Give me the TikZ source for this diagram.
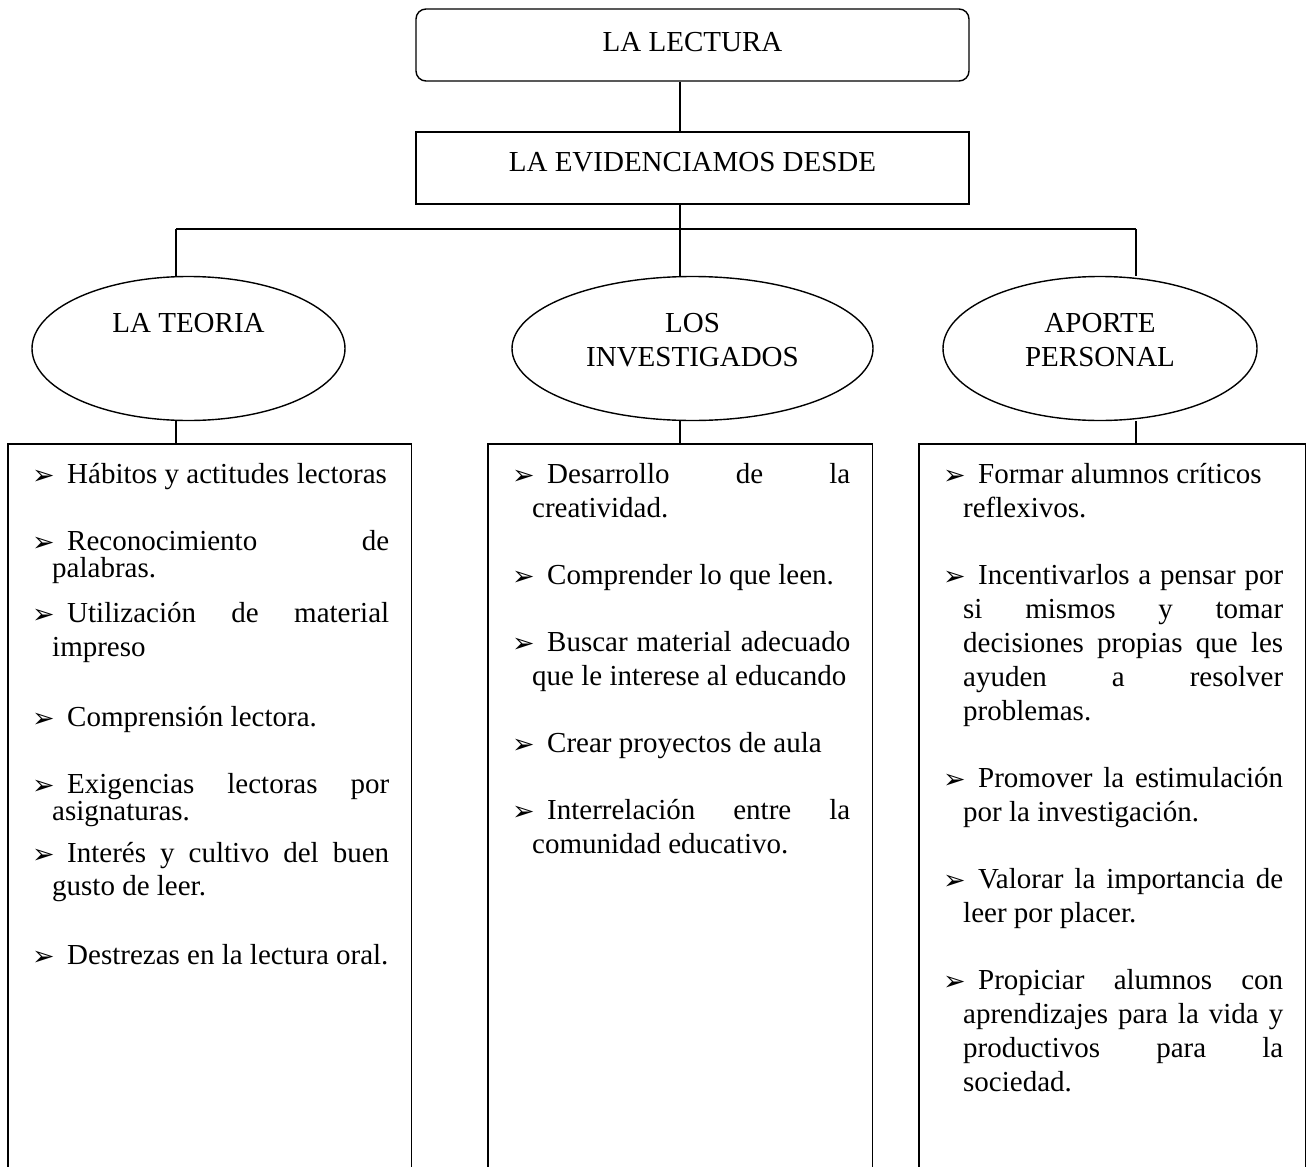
\documentclass[tikz,border=0pt]{standalone}
\usepackage{fontspec}
\setmainfont{Liberation Serif}
\newfontfamily\bulfont{DejaVu Sans}
\usetikzlibrary{shapes.geometric}
\newcommand{\bul}{{\bulfont\fontsize{27}{27}\selectfont\raisebox{-1pt}{➢}}}
\newcommand{\itm}[1]{\noindent\hangindent=20pt\hangafter=1\rule{0pt}{24pt}\makebox[35pt][l]{\bul}#1\par}
\begin{document}
\begin{tikzpicture}[x=1pt,y=-1pt,
  every node/.style={font=\fontsize{29}{34}\selectfont},
  conn/.style={line width=1.4pt},
  titlebox/.style={draw, line width=1.4pt, minimum width=553pt, minimum height=72pt, text height=19.2pt},
  oval/.style={draw, ellipse, line width=1.4pt, minimum height=144pt, inner sep=0pt},
  ovaltext/.style={align=center, inner sep=0pt},
  listbox/.style={rectangle, minimum height=756pt, inner sep=0pt},
  listtext/.style={anchor=north west, inner sep=0pt, align=justify,
    execute at begin node={\tolerance=10000\hyphenpenalty=10000\exhyphenpenalty=10000\emergencystretch=0pt}},
  tight/.style={font=\fontsize{29}{27}\selectfont}
]
\useasboundingbox (0,0) rectangle (1310,1167);
\clip (0,0) rectangle (1310,1167);

% top boxes
\node[titlebox, rounded corners=10pt, text depth=6pt] (top) at (692.5,45) {LA LECTURA};
\node[titlebox, text depth=12pt] (mid) at (692.5,168) {LA EVIDENCIAMOS DESDE};

% junctions
\coordinate (j) at (680,229);
\coordinate (jl) at (176,229);
\coordinate (jr) at (1136,229);

% ellipses
\node[oval, minimum width=313pt] (e1) at (188.5,348.5) {};
\node[oval, minimum width=361pt] (e2) at (692.5,348.5) {};
\node[oval, minimum width=314pt] (e3) at (1100,348.5) {};
\node[ovaltext] (t1) at (188.5,323) {LA TEORIA};
\node[ovaltext] (t2) at (692.5,340) {LOS\\INVESTIGADOS};
\node[ovaltext] (t3) at (1100,340) {APORTE\\PERSONAL};

% list boxes (open at the bottom)
\node[listbox, minimum width=403pt] (b1) at (209.5,822) {};
\node[listbox, minimum width=384pt] (b2) at (680,822) {};
\node[listbox, minimum width=386pt] (b3) at (1112,822) {};
\draw[conn] (b1.south west) -- (b1.north west) -- (b1.north east) -- (b1.south east);
\draw[conn] (b2.south west) -- (b2.north west) -- (b2.north east) -- (b2.south east);
\draw[conn] (b3.south west) -- (b3.north west) -- (b3.north east) -- (b3.south east);

% connectors
\draw[conn] (top.south -| j) -- (mid.north -| j);
\draw[conn] (mid.south -| j) -- (j);
\draw[conn] (jl) -- (jr);
\draw[conn] (jl) -- (e1.north -| jl);
\draw[conn] (j) -- (e2.north -| j);
\draw[conn] (jr) -- (e3.north -| jr);
\draw[conn] (e1.south -| jl) -- (b1.north -| jl);
\draw[conn] (e2.south -| j) -- (b2.north -| j);
\draw[conn] (e3.south -| jr) -- (b3.north -| jr);

% list texts, left box
\node[listtext, text width=357pt] (la) at (32,459) {\itm{Hábitos y actitudes lectoras}};
\node[listtext, tight, text width=357pt] (lb) at (32,526) {\itm{Reconocimiento de\linebreak palabras.}};
\node[listtext, text width=357pt] (lc) at (32,598) {\itm{Utilización de material\linebreak impreso}};
\node[listtext, text width=357pt] (ld) at (32,702) {\itm{Comprensión lectora.}};
\node[listtext, tight, text width=357pt] (le) at (32,769) {\itm{Exigencias lectoras por\linebreak asignaturas.}};
\node[listtext, font=\fontsize{29}{33}\selectfont, text width=357pt] (lf) at (32,838) {\itm{Interés y cultivo del buen\linebreak gusto de leer.}};
\node[listtext, text width=357pt] (lg) at (32,940) {\itm{Destrezas en la lectura oral.}};

% middle box
\node[listtext, text width=338pt] (l2) at (512,459) {\setlength\parskip{33pt}%
\itm{Desarrollo de la\linebreak creatividad.}
\itm{Comprender lo que leen.}
\itm{Buscar material adecuado\linebreak que le interese al educando}
\itm{Crear proyectos de aula}
\itm{Interrelación entre la\linebreak comunidad educativo.}};

% right box
\node[listtext, text width=340pt] (l3) at (943,459) {\setlength\parskip{33pt}%
\itm{Formar alumnos críticos\newline reflexivos.}
\itm{Incentivarlos a pensar por\linebreak si mismos y tomar\linebreak decisiones propias que les\linebreak ayuden a resolver\linebreak problemas.}
\itm{Promover la estimulación\linebreak por la investigación.}
\itm{Valorar la importancia de\linebreak leer por placer.}
\itm{Propiciar alumnos con\linebreak aprendizajes para la vida y\linebreak productivos para la\linebreak sociedad.}};
\end{tikzpicture}
\end{document}
